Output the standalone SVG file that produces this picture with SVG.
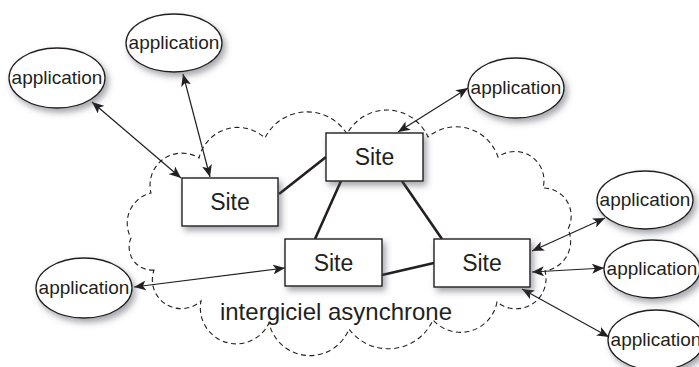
<svg xmlns="http://www.w3.org/2000/svg" width="699" height="367" viewBox="0 0 699 367">
<style>
.cloud{fill:none;stroke:#231f20;stroke-width:1.1;stroke-dasharray:5 3.5}
.app ellipse{fill:#fff;stroke:#231f20;stroke-width:1.3;filter:url(#sh)}
.app text{font-family:"Liberation Sans",Arial,sans-serif;font-size:19px;fill:#231f20;text-anchor:middle}
.site rect{fill:#fff;stroke:#231f20;stroke-width:1.4;filter:url(#sh)}
.site text{font-family:"Liberation Sans",Arial,sans-serif;font-size:23px;fill:#231f20;text-anchor:middle}
.link{stroke:#231f20;stroke-width:2.6;fill:none}
.arr{stroke:#231f20;stroke-width:1.2;fill:none;marker-start:url(#ah);marker-end:url(#ah)}
.label{font-family:"Liberation Sans",Arial,sans-serif;font-size:24px;fill:#231f20;text-anchor:middle}
</style>
<defs>
<filter id="sh" x="-20%" y="-20%" width="150%" height="160%">
<feDropShadow dx="3" dy="4" stdDeviation="3" flood-color="#4a4f5a" flood-opacity="0.5"/>
</filter>
<marker id="ah" viewBox="0 0 12 10" refX="12" refY="5" markerWidth="12" markerHeight="10" markerUnits="userSpaceOnUse" orient="auto-start-reverse">
<path d="M0,0 L12,5 L0,10 L3,5 z" fill="#231f20"/>
</marker>
</defs>
<path class="cloud" d="M154,270 A23,23 0 0 1 131,238 A31,31 0 0 1 151,193 A32,32 0 0 1 199,158 A40,40 0 0 1 265,138 A47,47 0 0 1 347,134 A45,45 0 0 1 428,137 A44,44 0 0 1 498,157 A29,29 0 0 1 543,188 A28,28 0 0 1 568,229 A30,30 0 0 1 545,271 A30,30 0 0 1 497,302 A37,37 0 0 1 433,320 A49,49 0 0 1 349,329 A42,42 0 0 1 269,323 A36,36 0 0 1 201,301 A29,29 0 0 1 154,270 Z"/>
<text class="label" x="336" y="320">intergiciel asynchrone</text>
<g id="connectors">
<line class="link" x1="279" y1="194" x2="326" y2="157"/>
<line class="link" x1="341" y1="181" x2="315" y2="239"/>
<line class="link" x1="402" y1="181" x2="442" y2="239"/>
<line class="link" x1="382" y1="275" x2="434" y2="263"/>
<line class="arr" x1="92" y1="102" x2="181" y2="178"/>
<line class="arr" x1="183" y1="74" x2="210" y2="177"/>
<line class="arr" x1="468" y1="88" x2="398" y2="132"/>
<line class="arr" x1="134" y1="287" x2="285" y2="268"/>
<line class="arr" x1="532" y1="251" x2="605" y2="218"/>
<line class="arr" x1="532" y1="272" x2="604" y2="268"/>
<line class="arr" x1="522" y1="289" x2="609" y2="337"/>
</g>
<g id="siteA" class="site"><rect x="182" y="178" width="96" height="48"/><text x="230" y="210">Site</text></g>
<g id="siteB" class="site"><rect x="326" y="133" width="97" height="48"/><text x="374.5" y="165">Site</text></g>
<g id="siteC" class="site"><rect x="285" y="239" width="97" height="47"/><text x="333.5" y="271">Site</text></g>
<g id="siteD" class="site"><rect x="434" y="239" width="96" height="48"/><text x="482" y="271">Site</text></g>
<g id="app1" class="app"><ellipse cx="57" cy="78" rx="48" ry="30"/><text x="57" y="84">application</text></g>
<g id="app2" class="app"><ellipse cx="174" cy="43" rx="48" ry="29"/><text x="174" y="49">application</text></g>
<g id="app3" class="app"><ellipse cx="516" cy="88" rx="48" ry="30"/><text x="516" y="94">application</text></g>
<g id="app4" class="app"><ellipse cx="645" cy="200" rx="48" ry="29"/><text x="645" y="206">application</text></g>
<g id="app5" class="app"><ellipse cx="652" cy="269" rx="48" ry="29"/><text x="652" y="275">application</text></g>
<g id="app6" class="app"><ellipse cx="656" cy="340" rx="48" ry="30"/><text x="656" y="346">application</text></g>
<g id="app7" class="app"><ellipse cx="84" cy="288" rx="48" ry="30"/><text x="84" y="294">application</text></g>
</svg>
